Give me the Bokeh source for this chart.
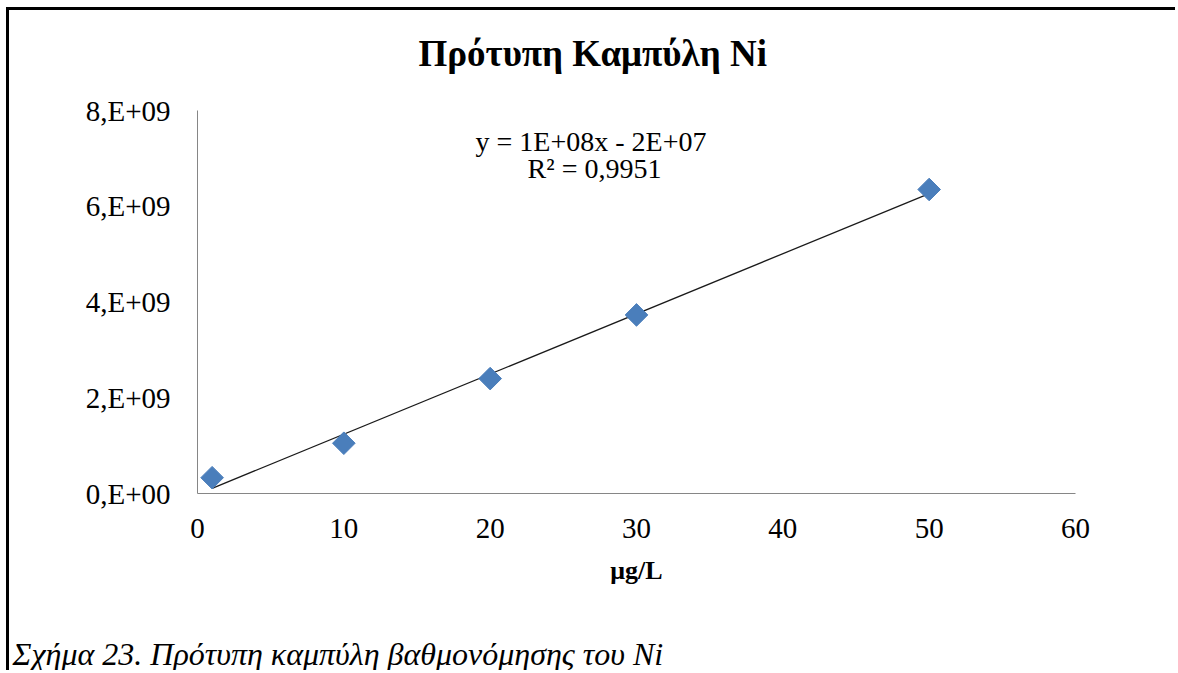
import numpy as np
from bokeh.plotting import figure
from bokeh.models import Range1d, FixedTicker, Label, Title
from bokeh.embed import file_html
from bokeh.resources import INLINE

# ---- data ----
conc_ugL = [1, 10, 20, 30, 50]
signal = [0.33e9, 1.05e9, 2.40e9, 3.73e9, 6.35e9]

x_ticks = [0, 10, 20, 30, 40, 50, 60]
x_tick_labels = ["0", "10", "20", "30", "40", "50", "60"]
y_ticks = [0, 2e9, 4e9, 6e9, 8e9]
y_tick_labels = ["0,E+00", "2,E+09", "4,E+09", "6,E+09", "8,E+09"]

title_text = "Πρότυπη Καμπύλη Ni"
x_title = "μg/L"
eq_line1 = "y = 1E+08x  - 2E+07"
eq_line2 = "R² = 0,9951"
caption = "Σχήμα 23. Πρότυπη καμπύλη βαθμονόμησης του Ni"

SERIF = "Liberation Serif"

W, H = 1169, 663
p = figure(width=W, height=H, output_backend="svg", toolbar_location=None,
           x_range=Range1d(0, 60), y_range=Range1d(0, 8e9))
p.styles = {"border-top": "3px solid black", "border-left": "3px solid black",
            "margin-left": "6px", "margin-top": "7px"}
p.min_border_left = 188
p.min_border_right = 103
p.min_border_top = 100
p.min_border_bottom = 180
p.outline_line_color = None
p.xgrid.visible = False
p.ygrid.visible = False
p.background_fill_color = "white"
p.border_fill_color = "white"

for ax in (p.xaxis[0], p.yaxis[0]):
    ax.axis_line_color = "#868686"
    ax.axis_line_width = 1
    ax.major_tick_line_color = None
    ax.minor_tick_line_color = None
    ax.major_tick_out = 0
    ax.major_tick_in = 0
    ax.minor_tick_out = 0
    ax.major_label_text_font = SERIF
    ax.major_label_text_font_size = "29px"
    ax.major_label_text_color = "black"

p.xaxis.ticker = FixedTicker(ticks=x_ticks)
p.xaxis.major_label_overrides = {t: l for t, l in zip(x_ticks, x_tick_labels)}
p.xaxis.major_label_standoff = 25
p.xaxis.axis_label = x_title
p.xaxis.axis_label_text_font = SERIF
p.xaxis.axis_label_text_font_style = "bold"
p.xaxis.axis_label_text_font_size = "26px"
p.xaxis.axis_label_text_color = "black"
p.xaxis.axis_label_standoff = 15
p.yaxis.ticker = FixedTicker(ticks=y_ticks)
p.yaxis.major_label_overrides = {t: l for t, l in zip(y_ticks, y_tick_labels)}
p.yaxis.major_label_standoff = 27

# default title unused (zero height); own titles stacked outward from the frame
p.title.text = ""
p.add_layout(Title(text=" ", text_font_size="10px", standoff=24), "above")
p.add_layout(Title(text=title_text, align="left", offset=221, text_font=SERIF,
                   text_font_style="bold", text_font_size="37px",
                   text_color="black", standoff=0), "above")

# figure caption below the x axis
p.add_layout(Title(text=" ", text_font_size="10px", standoff=37), "below")
p.add_layout(Title(text=caption, align="left", offset=-185, text_font=SERIF,
                   text_font_style="italic", text_font_size="32px",
                   text_color="black", standoff=-8), "below")

# linear trendline (least squares on the data, drawn over the data range)
slope, intercept = np.polyfit(conc_ugL, signal, 1)
xs = [min(conc_ugL), max(conc_ugL)]
p.line(xs, [slope * v + intercept for v in xs], line_color="#1a1a1a", line_width=1.3)

p.scatter(conc_ugL, signal, marker="square", angle=np.pi / 4, size=16,
          fill_color="#4A7EBB", line_color="#4A7EBB")

for txt, yy in ((eq_line1, 352), (eq_line2, 325)):
    p.add_layout(Label(x=397, y=yy, x_units="screen", y_units="screen", text=txt,
                       text_font=SERIF, text_font_size="28px",
                       text_align="center", text_baseline="alphabetic",
                       text_color="black"))

open("out.html", "w").write(file_html(p, INLINE))
